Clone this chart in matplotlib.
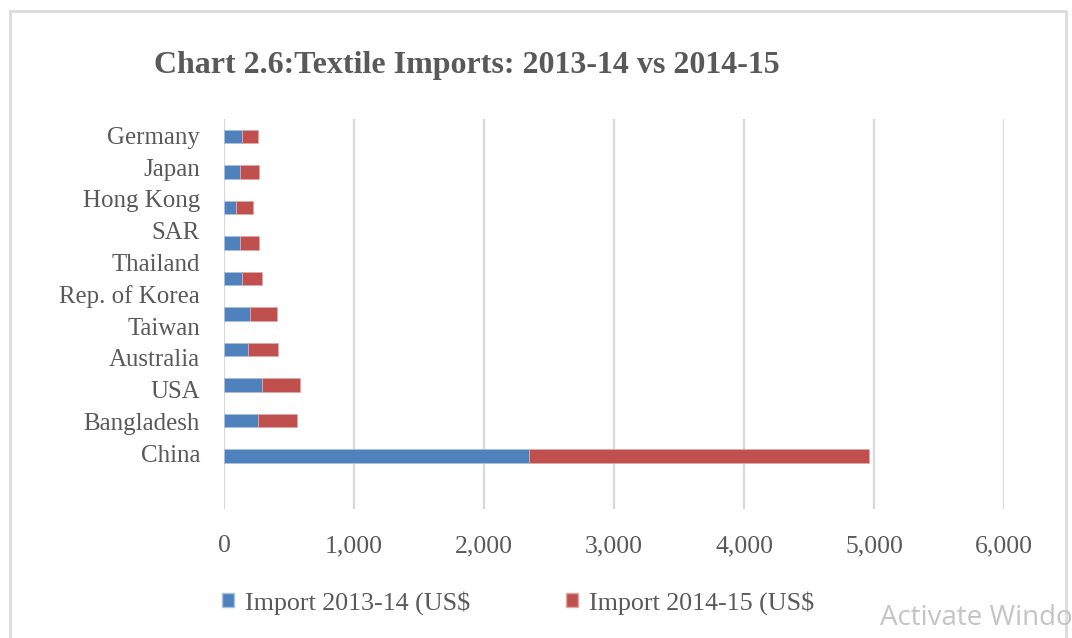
import matplotlib
matplotlib.use("Agg")
import matplotlib.pyplot as plt
from matplotlib.patches import Patch, Rectangle
from matplotlib.ticker import FuncFormatter
from matplotlib.transforms import offset_copy

# Textile imports by source country (US$ million), bottom to top of the chart
countries = ["China", "Bangladesh", "USA", "Australia", "Taiwan",
             "Rep. of Korea", "Thailand", "Hong Kong SAR", "Japan", "Germany"]
country_labels = ["China", "Bangladesh", "USA", "Australia", "Taiwan",
                  "Rep. of Korea", "Thailand", "Hong Kong\nSAR", "Japan", "Germany"]
import_2013_14 = [2349, 259, 295, 182, 203, 136, 123, 90, 123, 136]
import_2014_15 = [2615, 305, 292, 236, 205, 159, 149, 136, 149, 123]
x_ticks = [0, 1000, 2000, 3000, 4000, 5000, 6000]
series_names = ["Import 2013-14 (US$", "Import 2014-15 (US$"]

BLUE = "#4f81bd"
RED = "#c0504d"
GRID = "#d9d9d9"
TEXT = "#595959"
SERIF = ["Liberation Serif", "DejaVu Serif"]

W, H = 1072, 638
fig = plt.figure(figsize=(W / 100, H / 100), dpi=100)
fig.patch.set_facecolor("white")

# outer chart border
fig.add_artist(Rectangle((10 / W, -0.02), (1066 - 10) / W, (H - 11) / H + 0.02,
                         transform=fig.transFigure, fill=False,
                         edgecolor="#dcdcdc", linewidth=2.0))

ax = fig.add_axes([224 / W, (H - 509) / H, (1004 - 224) / W, 390 / H])
ypos = list(range(len(countries)))
bar_h = 0.38
ax.barh(ypos, import_2013_14, height=bar_h, color=BLUE,
        edgecolor="#a9c0e0", linewidth=0.6, zorder=3)
ax.barh(ypos, import_2014_15, left=import_2013_14, height=bar_h, color=RED,
        edgecolor="#e0a9a8", linewidth=0.6, zorder=3)

ax.set_xlim(0, 6000)
ax.set_ylim(-1.5, len(countries) - 0.5)
ax.set_xticks(x_ticks)
ax.xaxis.set_major_formatter(FuncFormatter(lambda v, p: f"{int(v):,}"))
ax.grid(axis="x", color=GRID, linewidth=1.6, zorder=0)
ax.set_yticks([])
for s in ax.spines.values():
    s.set_visible(False)
ax.tick_params(axis="x", length=0, pad=19, labelsize=18.5, labelcolor=TEXT)
for lbl in ax.get_xticklabels():
    lbl.set_fontfamily(SERIF)

# category labels, wrapped lines stacked upward from the first category
lines = []
for lab in country_labels:
    lines.extend(reversed(lab.split("\n")))
base = ax.get_yaxis_transform()
for i, line in enumerate(lines):
    tr = offset_copy(base, fig=fig, x=-24, y=i * 31.8, units="dots")
    ax.text(0, 0, line, transform=tr, ha="right", va="center",
            fontsize=17.9, color=TEXT, family=SERIF)

fig.text(467 / W, 1 - 66 / H, "Chart 2.6:Textile Imports: 2013-14 vs 2014-15",
         ha="center", va="center", fontsize=23, fontweight="bold",
         color=TEXT, family=SERIF)

handles = [Patch(facecolor=BLUE, edgecolor="#a9c0e0"),
           Patch(facecolor=RED, edgecolor="#e0a9a8")]
leg = fig.legend(handles, series_names, loc="center",
                 bbox_to_anchor=(518 / W, 1 - 603 / H), ncol=2, frameon=False,
                 handlelength=0.45, handleheight=0.45, handletextpad=0.42,
                 columnspacing=3.7, prop={"family": SERIF, "size": 18.7})
for t in leg.get_texts():
    t.set_color(TEXT)

fig.text(880 / W, 1 - 618 / H, "Activate Windo", ha="left", va="center",
         fontsize=20, color="#c4c4c4", family=["Open Sans", "DejaVu Sans"])

fig.savefig("out.png", dpi=100, facecolor="white")
